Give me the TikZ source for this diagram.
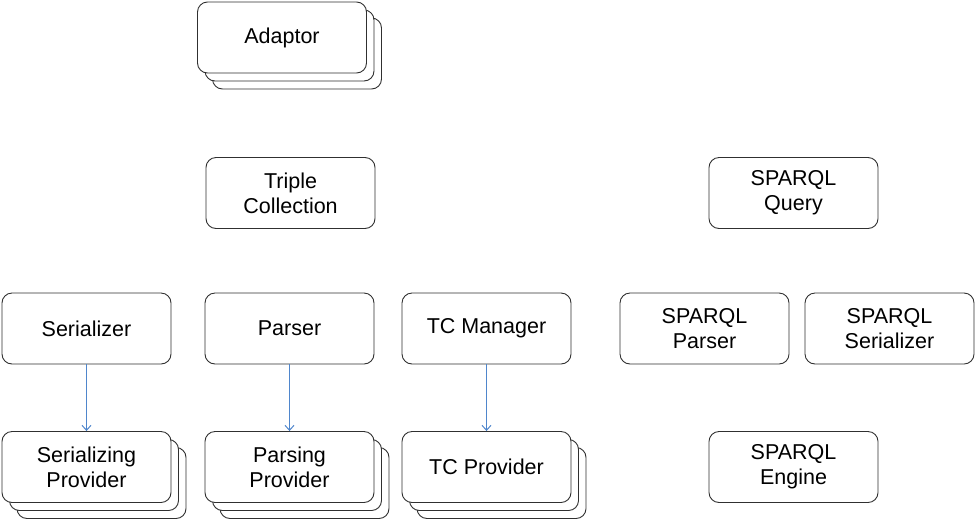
\documentclass[tikz,border=0pt]{standalone}
\usepackage{fontspec}
\setmainfont{Liberation Sans}
\usetikzlibrary{arrows.meta,shadows}
\definecolor{boxline}{HTML}{303030}
\definecolor{arrowblue}{HTML}{4F86CC}
\begin{document}
\begin{tikzpicture}[x=1pt,y=-1pt,
  box/.style={draw=boxline,line width=0.9pt,fill=white,rounded corners=10pt,
    minimum width=169pt,minimum height=71pt,inner sep=0pt,align=center,
    font=\fontsize{21.5pt}{25pt}\selectfont},
  stackbox/.style={box,
    general shadow={shadow xshift=15pt,shadow yshift=-16pt,fill=white,draw=boxline,line width=0.9pt},
    general shadow={shadow xshift=7.5pt,shadow yshift=-8pt,fill=white,draw=boxline,line width=0.9pt}},
  link/.style={draw=arrowblue,line width=1pt,-{Straight Barb[length=5pt,width=9pt]}}]
\useasboundingbox (0,0) rectangle (976,520);
\node[stackbox] (adaptor) at (282,37.5) {Adaptor};
\node[box] (triple) at (290.5,193) {Triple\\Collection};
\node[box] (squery) at (793.5,193) {SPARQL\\Query};
\node[box] (serializer) at (86.5,328.5) {Serializer};
\node[box] (parser) at (289.5,328.5) {Parser};
\node[box] (tcmanager) at (486.5,328.5) {TC Manager};
\node[box] (sparser) at (704.5,328.5) {SPARQL\\Parser};
\node[box] (sserializer) at (889.5,328.5) {SPARQL\\Serializer};
\node[stackbox] (serprov) at (86.5,467) {Serializing\\Provider};
\node[stackbox] (parsprov) at (289.5,467) {Parsing\\Provider};
\node[stackbox] (tcprov) at (486.5,467) {TC Provider};
\node[box] (sengine) at (793.5,467) {SPARQL\\Engine};
\draw[link] (serializer) -- (serprov);
\draw[link] (parser) -- (parsprov);
\draw[link] (tcmanager) -- (tcprov);
\end{tikzpicture}
\end{document}
